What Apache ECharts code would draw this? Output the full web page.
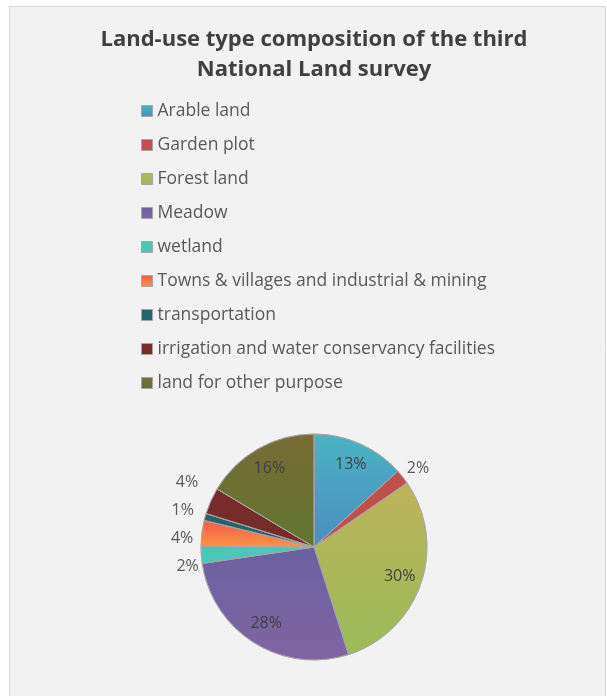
<!DOCTYPE html>
<html>
<head>
    <meta charset="utf-8">
    <title>ECharts</title>
    <script src="https://cdn.jsdelivr.net/npm/echarts@6/dist/echarts.min.js"></script>
    <style>
        body { margin: 0; background: #ffffff; }
    </style>
</head>
<body>
<div id="main" style="width: 607px;height:696px;"></div>
<script type="text/javascript">
    // land-use categories and their share (estimated, % of total area)
    var categories = ['Arable land', 'Garden plot', 'Forest land', 'Meadow', 'wetland',
        'Towns & villages and industrial & mining', 'transportation',
        'irrigation and water conservancy facilities', 'land for other purpose'];
    var values = [13.3, 2.1, 29.6, 27.6, 2.4, 3.7, 1.0, 3.8, 16.4];
    // slice colours: gradient top / bottom
    var colorTop = ['#4bb4c2', '#c0504d', '#bdb35a', '#6a61a0', '#4bc6b9', '#fb5847', '#25646f', '#772c2a', '#786c36'];
    var colorBottom = ['#4a8cc0', '#c0504d', '#9bbb59', '#8064a2', '#4bc6b9', '#f79646', '#25646f', '#772c2a', '#5f7530'];
    // labels drawn inside the slice (others go outside)
    var insideLabel = [true, false, true, true, false, false, false, false, true];

    var chartDom = document.getElementById('main');
    var myChart = echarts.init(chartDom);

    function grad(i) {
        return new echarts.graphic.LinearGradient(0, 0, 0, 1, [
            {offset: 0, color: colorTop[i]},
            {offset: 1, color: colorBottom[i]}
        ]);
    }

    var total = values.reduce(function (a, b) { return a + b; }, 0);
    function pct(v) {
        return Math.round(v / total * 100) + '%';
    }

    var mainData = categories.map(function (name, i) {
        return {
            name: name,
            value: values[i],
            itemStyle: {color: grad(i)},
            label: {show: !insideLabel[i]}
        };
    });
    var labelData = categories.map(function (name, i) {
        return {
            name: name,
            value: values[i],
            label: {show: insideLabel[i]}
        };
    });

    var option = {
        backgroundColor: '#ffffff',
        graphic: [{
            type: 'rect',
            left: 9,
            top: 6,
            z: -10,
            shape: {width: 596, height: 700},
            style: {fill: '#f2f2f2', stroke: '#d9d9d9', lineWidth: 1}
        }],
        title: {
            text: 'Land-use type composition of the third\nNational Land survey',
            left: 309,
            textAlign: 'center',
            top: 20,
            textStyle: {
                fontFamily: 'Open Sans',
                fontWeight: 'bold',
                fontSize: 22,
                lineHeight: 30,
                color: '#404040'
            }
        },
        legend: {
            orient: 'vertical',
            left: 136,
            top: 95,
            itemWidth: 11,
            itemHeight: 11,
            itemGap: 12,
            icon: 'rect',
            data: categories,
            itemStyle: {borderColor: '#a6a6a6', borderWidth: 1},
            textStyle: {
                fontFamily: 'Open Sans',
                fontSize: 17.5,
                lineHeight: 22,
                color: '#595959'
            }
        },
        color: colorBottom,
        series: [
            {
                type: 'pie',
                center: [314, 547],
                radius: 113,
                startAngle: 90,
                clockwise: true,
                avoidLabelOverlap: true,
                itemStyle: {borderColor: '#a6a6a6', borderWidth: 0.8},
                label: {
                    position: 'outside',
                    formatter: function (p) { return pct(p.value); },
                    fontFamily: 'Open Sans',
                    fontSize: 16,
                    lineHeight: 26,
                    color: '#595959'
                },
                labelLine: {show: false, length: 4, length2: 0},
                // Excel spreads the left-hand labels around their slices, nudge them up
                labelLayout: function (params) {
                    if (params.labelRect.x < 314) {
                        return {dx: -4, dy: -17};
                    }
                    return {dx: -4, dy: -6};
                },
                emphasis: {disabled: true},
                data: mainData
            },
            {
                type: 'pie',
                center: [314, 547],
                radius: [62, 113],
                startAngle: 90,
                clockwise: true,
                silent: true,
                itemStyle: {color: 'rgba(0,0,0,0)', borderWidth: 0},
                label: {
                    position: 'inside',
                    formatter: function (p) { return pct(p.value); },
                    fontFamily: 'Open Sans',
                    fontSize: 16,
                    color: '#404040'
                },
                labelLine: {show: false},
                emphasis: {disabled: true},
                data: labelData
            }
        ]
    };

    myChart.setOption(option);
</script>
</body>
</html>
